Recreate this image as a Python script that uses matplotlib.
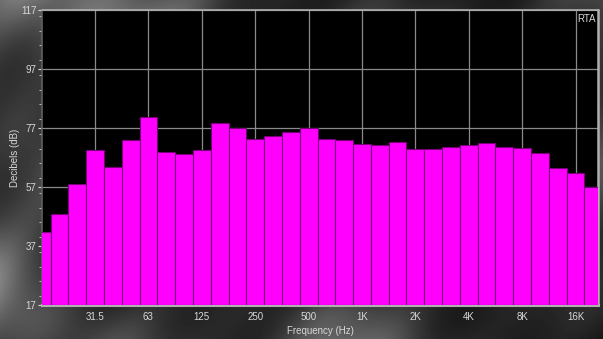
import numpy as np
import matplotlib
matplotlib.use("Agg")
import matplotlib.pyplot as plt
from matplotlib.ticker import MultipleLocator

# 1/3-octave band centres (Hz) and RTA levels (dB)
bands = ["16", "20", "25", "31.5", "40", "50", "63", "80", "100", "125",
         "160", "200", "250", "315", "400", "500", "630", "800", "1K", "1.25K",
         "1.6K", "2K", "2.5K", "3.15K", "4K", "5K", "6.3K", "8K", "10K", "12.5K",
         "16K", "20K"]
levels = [41.6, 47.8, 58.0, 69.7, 63.8, 73.0, 80.8, 68.8, 68.1, 69.5,
          78.8, 77.1, 73.2, 74.2, 75.8, 76.9, 73.2, 72.9, 71.7, 71.4,
          72.4, 69.8, 69.8, 70.7, 71.4, 71.8, 70.7, 70.1, 68.6, 63.5,
          61.6, 56.9]
tick_labels = ["31.5", "63", "125", "250", "500", "1K", "2K", "4K", "8K", "16K"]
y_ticks = [17, 37, 57, 77, 97, 117]

plt.rcParams["font.family"] = ["Liberation Sans", "DejaVu Sans"]
txt = "#d8d8d8"

fig = plt.figure(figsize=(6.03, 3.39), dpi=100)

# cloudy grey backdrop
bg = fig.add_axes([0, 0, 1, 1])
yy, xx = np.mgrid[0:339, 0:603] / 100.0
tex = (np.sin(xx * 1.3 + yy * 0.7 + 0.4) + np.sin(xx * 0.6 - yy * 1.9 + 1.2)
       + 0.6 * np.sin(xx * 3.1 + yy * 2.3 + 2.0) + 0.5 * np.sin(xx * 2.2 - yy * 3.7)
       + 0.3 * np.sin(xx * 7.0 + yy * 5.1 + 0.8))
tex = (tex - tex.min()) / (tex.max() - tex.min())
bg.imshow(0.08 + 0.45 * tex ** 1.8, cmap="gray", vmin=0, vmax=1, aspect="auto")
bg.axis("off")

ax = fig.add_axes([42 / 603, 34 / 339, 556 / 603, 295 / 339])
ax.set_facecolor("black")
pos = np.arange(len(bands))
ax.bar(pos, np.array(levels) - 17, bottom=17, width=1.0, color="#ff00ff",
       edgecolor="#7a007a", linewidth=0.8, zorder=3)

ax.set_xlim(0.02, 31.26)
ax.set_ylim(17, 117)
ax.set_xticks([bands.index(t) for t in tick_labels])
ax.set_xticklabels(tick_labels)
ax.set_yticks(y_ticks)
ax.yaxis.set_minor_locator(MultipleLocator(5))
ax.grid(True, color="#8a8a8a", linewidth=0.9, zorder=1)
ax.set_axisbelow(True)

ax.tick_params(axis="x", length=0, colors=txt, labelsize=7, pad=5)
ax.tick_params(axis="y", which="major", length=3, colors=txt, labelsize=7, pad=1)
ax.tick_params(axis="y", which="minor", length=2, colors=txt)

for s in ax.spines.values():
    s.set_color("#b0b0b0")
    s.set_linewidth(1.2)
ax.spines["bottom"].set_linewidth(2.2)
ax.spines["right"].set_linewidth(1.8)
ax.spines["left"].set_color("#606060")

ax.set_xlabel("Frequency (Hz)", color=txt, fontsize=7, labelpad=3)
ax.set_ylabel("Decibels (dB)", color=txt, fontsize=7, labelpad=1)
ax.text(0.996, 0.985, "RTA", transform=ax.transAxes, ha="right", va="top",
        color=txt, fontsize=7)

fig.savefig("out.png", dpi=100)
